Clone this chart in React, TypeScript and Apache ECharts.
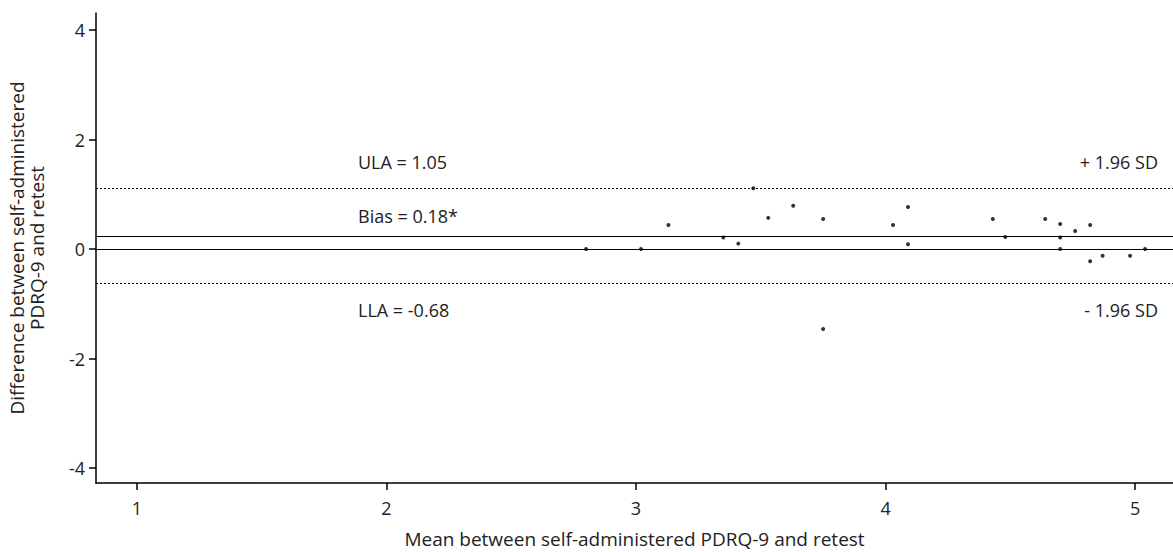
import React, { useEffect, useRef } from "react";
import * as echarts from "echarts";

const meanValues = [2.8, 3.02, 3.13, 3.35, 3.41, 3.47, 3.53, 3.63, 3.75, 3.75, 4.03, 4.09, 4.09, 4.43, 4.48, 4.64, 4.7, 4.7, 4.7, 4.76, 4.82, 4.82, 4.87, 4.98, 5.04];
const diffValues = [0, 0, 0.44, 0.21, 0.1, 1.11, 0.57, 0.79, 0.55, -1.46, 0.44, 0.77, 0.09, 0.55, 0.22, 0.55, 0.46, 0.21, 0, 0.33, 0.44, -0.22, -0.12, -0.12, 0];
const xTicks = [1, 2, 3, 4, 5];
const yTicks = [-4, -2, 0, 2, 4];
const biasLine = 0.235;
const upperLine = 1.11;
const lowerLine = -0.63;
const zeroLine = 0;
const leftLabels = ["ULA = 1.05", "Bias = 0.18*", "LLA = -0.68"];
const rightLabels = ["+ 1.96 SD", "- 1.96 SD"];

const FONT = "'Open Sans', 'Noto Sans', sans-serif";

export default function App() {
  const ref = useRef<HTMLDivElement>(null);
  useEffect(() => {
    document.body.style.margin = "0";
    const chart = echarts.init(ref.current!, null, { renderer: "svg" });
    const points = meanValues.map((m, i) => [m, diffValues[i]]);
    const textStyle = { fill: "#222", fontSize: 18, fontFamily: FONT, verticalAlign: "middle" };
    chart.setOption({
      animation: false,
      textStyle: { fontFamily: FONT },
      grid: { left: 96, right: 0, top: 13, bottom: 69, containLabel: false, outerBoundsMode: "none" },
      xAxis: {
        type: "value",
        min: 0.836,
        max: 5.152,
        splitLine: { show: false },
        axisLine: { onZero: false, lineStyle: { color: "#000", width: 1.5 } },
        axisTick: { customValues: xTicks, length: 7, lineStyle: { color: "#000", width: 1.5 } },
        axisLabel: { customValues: xTicks, margin: 16, color: "#222", fontSize: 18, fontFamily: FONT },
        name: "Mean between self-administered PDRQ-9 and retest",
        nameLocation: "middle",
        nameGap: 46,
        nameTextStyle: { color: "#222", fontSize: 19, fontFamily: FONT },
      },
      yAxis: {
        type: "value",
        min: -4.27,
        max: 4.31,
        splitLine: { show: false },
        axisLine: { onZero: false, lineStyle: { color: "#000", width: 1.5 } },
        axisTick: { customValues: yTicks, length: 7, lineStyle: { color: "#000", width: 1.5 } },
        axisLabel: { customValues: yTicks, margin: 11, color: "#222", fontSize: 18, fontFamily: FONT },
        name: "Difference between self-administered\nPDRQ-9 and retest",
        nameLocation: "middle",
        nameGap: 49,
        nameTextStyle: { color: "#222", fontSize: 19, fontFamily: FONT, lineHeight: 20 },
      },
      graphic: [
        { type: "text", x: 358, y: 162, style: { ...textStyle, text: leftLabels[0] } },
        { type: "text", x: 358, y: 216, style: { ...textStyle, text: leftLabels[1] } },
        { type: "text", x: 358, y: 310, style: { ...textStyle, text: leftLabels[2] } },
        { type: "text", x: 1158, y: 162, style: { ...textStyle, align: "right", text: rightLabels[0] } },
        { type: "text", x: 1158, y: 310, style: { ...textStyle, align: "right", text: rightLabels[1] } },
      ],
      series: [
        {
          type: "scatter",
          data: points,
          symbolSize: 4,
          itemStyle: { color: "#000" },
          markLine: {
            silent: true,
            symbol: "none",
            label: { show: false },
            data: [
              { yAxis: upperLine, lineStyle: { type: [2, 2], color: "#000", width: 1 } },
              { yAxis: lowerLine, lineStyle: { type: [2, 2], color: "#000", width: 1 } },
              { yAxis: biasLine, lineStyle: { type: "solid", color: "#000", width: 1.2 } },
              { yAxis: zeroLine, lineStyle: { type: "solid", color: "#000", width: 1 } },
            ],
          },
        },
      ],
    });
    return () => chart.dispose();
  }, []);
  return <div ref={ref} style={{ width: 1173, height: 552 }} />;
}
